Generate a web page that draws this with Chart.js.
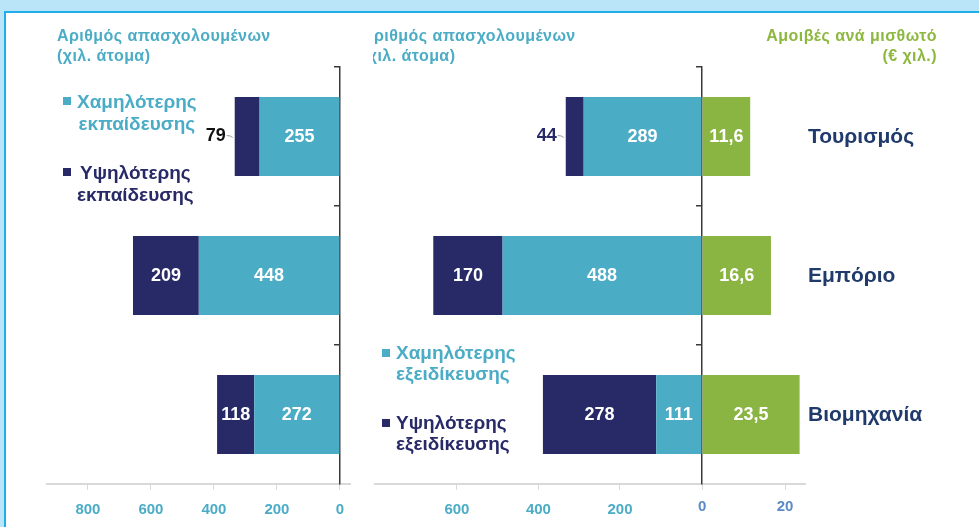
<!DOCTYPE html>
<html><head><meta charset="utf-8">
<script src="https://cdn.jsdelivr.net/npm/chart.js@4.4.1/dist/chart.umd.min.js"></script>
<style>
html,body{margin:0;padding:0;}
body{width:979px;height:527px;background:#BAE5F8;position:relative;overflow:hidden;font-family:"Liberation Sans",Arial,sans-serif;}
#panel{position:absolute;left:4px;top:11px;width:975px;height:516px;background:#fff;border-top:2px solid #1FAEE9;border-left:2px solid #1FAEE9;box-sizing:border-box;}
canvas{position:absolute;top:0;}
#cL{left:0;}
#cR{left:373px;}
.t{position:absolute;font:bold 16px/20px "Liberation Sans",Arial,sans-serif;letter-spacing:0.45px;white-space:nowrap;color:#4BACC6;}
.lg{position:absolute;font:bold 19px/22px "Liberation Sans",Arial,sans-serif;white-space:nowrap;}
.sq{position:absolute;width:8px;height:8px;}
#clipT{position:absolute;left:373px;top:20px;width:220px;height:60px;overflow:hidden;}
</style></head>
<body>
<div id="panel"></div>
<canvas id="cL" width="373" height="527"></canvas>
<canvas id="cR" width="606" height="527"></canvas>

<div class="t" style="left:57px;top:26px;">Αριθμός απασχολουμένων<br>(χιλ. άτομα)</div>
<div id="clipT"><div class="t" style="left:-11px;top:6px;">Αριθμός απασχολουμένων<br>(χιλ. άτομα)</div></div>
<div class="t" style="right:42px;top:26px;text-align:right;color:#8DB840;">Αμοιβές ανά μισθωτό<br>(€ χιλ.)</div>

<div class="sq" style="left:63px;top:97px;background:#4BACC6;"></div>
<div class="lg" style="left:77px;top:91px;color:#4BACC6;text-align:center;">Χαμηλότερης<br>εκπαίδευσης</div>
<div class="sq" style="left:63px;top:168px;background:#272A66;"></div>
<div class="lg" style="left:77px;top:162px;color:#272A66;text-align:center;">Υψηλότερης<br>εκπαίδευσης</div>

<div class="sq" style="left:382px;top:349px;background:#4BACC6;"></div>
<div class="lg" style="left:396px;top:342px;color:#4BACC6;line-height:21px;">Χαμηλότερης<br>εξειδίκευσης</div>
<div class="sq" style="left:382px;top:419px;background:#272A66;"></div>
<div class="lg" style="left:396px;top:412px;color:#272A66;line-height:21px;">Υψηλότερης<br>εξειδίκευσης</div>

<script>
const categories = ['Τουρισμός', 'Εμπόριο', 'Βιομηχανία'];
const eduLower = [255, 448, 272];
const eduHigher = [79, 209, 118];
const skillLower = [289, 488, 111];
const skillHigher = [44, 170, 278];
const payPerEmployee = [11.6, 16.6, 23.5];
const employmentTicksLeft = [800, 600, 400, 200, 0];
const employmentTicksRight = [600, 400, 200];
const payTicks = [0, 20];

const TEAL = '#4BACC6', NAVY = '#272A66', GREEN = '#8BB542';
const FAM = '"Liberation Sans", Arial, sans-serif';

const valueLabels = {
  id: 'valueLabels',
  afterDatasetsDraw(chart, args, opts) {
    const ctx = chart.ctx;
    ctx.save();
    chart.data.datasets.forEach((ds, di) => {
      const meta = chart.getDatasetMeta(di);
      meta.data.forEach((bar, i) => {
        const v = ds.data[i];
        const txt = ds.decimal ? String(v).replace('.', ',') : String(v);
        const l = Math.min(bar.x, bar.base), r = Math.max(bar.x, bar.base);
        ctx.font = 'bold 18px ' + FAM;
        ctx.textBaseline = 'middle';
        if (r - l < 28) {
          ctx.fillStyle = opts.outsideColor;
          ctx.textAlign = 'right';
          ctx.fillText(txt, l - 9, bar.y);
          ctx.strokeStyle = '#9A9A9A';
          ctx.lineWidth = 1;
          ctx.beginPath();
          ctx.moveTo(l - 8, bar.y - 1);
          ctx.quadraticCurveTo(l - 4, bar.y - 1, l - 2, bar.y + 1);
          ctx.stroke();
        } else {
          ctx.fillStyle = '#FFFFFF';
          ctx.textAlign = 'center';
          ctx.fillText(txt, (l + r) / 2, bar.y + 1);
        }
      });
    });
    ctx.restore();
  }
};

const catLabels = {
  id: 'catLabels',
  afterDraw(chart) {
    const ctx = chart.ctx, y = chart.scales.y, x2 = chart.scales.x2;
    ctx.save();
    ctx.font = 'bold 21px ' + FAM;
    ctx.fillStyle = '#1F3A6B';
    ctx.textAlign = 'left';
    ctx.textBaseline = 'middle';
    categories.forEach((c, i) => ctx.fillText(c, chart.chartArea.right + 3, y.getPixelForValue(i) + 1));
    ctx.font = 'bold 15px ' + FAM;
    ctx.fillStyle = '#5B8BC8';
    ctx.textAlign = 'center';
    payTicks.forEach(v => ctx.fillText(String(v), x2.getPixelForValue(v), chart.chartArea.bottom + 23));
    ctx.restore();
  }
};

const tickFont = {family: FAM, size: 15, weight: 'bold'};

new Chart(document.getElementById('cL'), {
  type: 'bar',
  data: {
    labels: categories,
    datasets: [
      {label: 'Χαμηλότερης εκπαίδευσης', data: eduLower, backgroundColor: TEAL, stack: 's', barPercentage: 0.57, categoryPercentage: 1},
      {label: 'Υψηλότερης εκπαίδευσης', data: eduHigher, backgroundColor: NAVY, stack: 's', barPercentage: 0.57, categoryPercentage: 1}
    ]
  },
  options: {
    indexAxis: 'y', responsive: false, animation: false,
    layout: {padding: {left: 47, right: 23, top: 67, bottom: 0}},
    plugins: {legend: {display: false}, tooltip: {enabled: false}, valueLabels: {outsideColor: '#111111'}},
    scales: {
      x: {
        type: 'linear', reverse: true, min: -32, max: 930, stacked: true, position: 'bottom',
        afterBuildTicks: s => { s.ticks = employmentTicksLeft.map(v => ({value: v})); },
        afterFit: s => { s.height = 43; },
        grid: {drawOnChartArea: false, color: '#D9D9D9', tickLength: 6, lineWidth: 1},
        border: {color: '#D9D9D9', width: 2},
        ticks: {color: TEAL, font: tickFont, padding: 11, maxRotation: 0, autoSkip: false}
      },
      y: {
        type: 'category', position: {x: 0}, stacked: true, offset: true,
        grid: {offset: true, drawOnChartArea: false, color: '#3A3A3A', tickLength: 5, lineWidth: 1.5},
        border: {color: '#3A3A3A', width: 1.5},
        ticks: {display: false}
      }
    }
  },
  plugins: [valueLabels]
});

new Chart(document.getElementById('cR'), {
  type: 'bar',
  data: {
    labels: categories,
    datasets: [
      {label: 'Χαμηλότερης εξειδίκευσης', data: skillLower, backgroundColor: TEAL, stack: 's', xAxisID: 'x', barPercentage: 0.57, categoryPercentage: 1},
      {label: 'Υψηλότερης εξειδίκευσης', data: skillHigher, backgroundColor: NAVY, stack: 's', xAxisID: 'x', barPercentage: 0.57, categoryPercentage: 1},
      {label: 'Αμοιβές ανά μισθωτό', data: payPerEmployee, backgroundColor: GREEN, stack: 's', xAxisID: 'x2', decimal: true, barPercentage: 0.57, categoryPercentage: 1}
    ]
  },
  options: {
    indexAxis: 'y', responsive: false, animation: false,
    layout: {padding: {left: 2, right: 174, top: 67, bottom: 0}},
    plugins: {legend: {display: false}, tooltip: {enabled: false}, valueLabels: {outsideColor: NAVY}},
    scales: {
      x: {
        type: 'linear', reverse: true, min: -254, max: 801, stacked: true, position: 'bottom', weight: 1,
        afterBuildTicks: s => { s.ticks = employmentTicksRight.map(v => ({value: v})); },
        afterFit: s => { s.height = 43; },
        grid: {drawOnChartArea: false, color: '#D9D9D9', tickLength: 6, lineWidth: 1},
        border: {color: '#D9D9D9', width: 2},
        ticks: {color: TEAL, font: tickFont, padding: 11, maxRotation: 0, autoSkip: false}
      },
      x2: {
        type: 'linear', min: -78.8, max: 24.8, stacked: true, position: 'bottom', weight: 0,
        afterBuildTicks: s => { s.ticks = payTicks.map(v => ({value: v})); },
        afterFit: s => { s.height = 0; },
        grid: {drawOnChartArea: false, color: '#D9D9D9', tickLength: 6, lineWidth: 1},
        border: {display: false},
        ticks: {display: false}
      },
      y: {
        type: 'category', position: {x2: 0}, stacked: true, offset: true,
        grid: {offset: true, drawOnChartArea: false, color: '#3A3A3A', tickLength: 5, lineWidth: 1.5},
        border: {color: '#3A3A3A', width: 1.5},
        ticks: {display: false}
      }
    }
  },
  plugins: [valueLabels, catLabels]
});
</script>
</body></html>
